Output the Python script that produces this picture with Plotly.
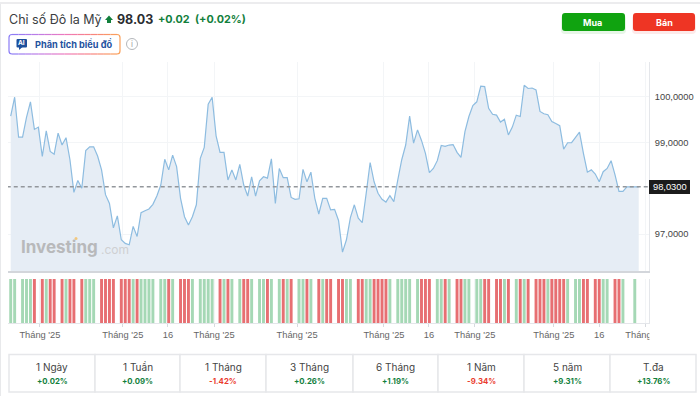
import plotly.graph_objects as go

title = "Chỉ số Đô la Mỹ"
last_price = 98.03
price_text = "98.03"
change_text = "+0.02"
change_pct_text = "(+0.02%)"
price_tag = "98,0300"

closes = [
    99.57, 99.98, 99.11, 99.11, 99.54, 99.88, 99.28, 99.33, 98.69, 99.25,
    98.80, 98.74, 99.20, 98.94, 99.10, 98.62, 97.91, 98.17, 98.00, 98.82,
    98.90, 98.90, 98.70, 98.40, 97.86, 97.67, 97.14, 97.40, 96.88, 96.80,
    96.77, 97.17, 96.95, 97.47, 97.51, 97.55, 97.65, 97.83, 98.07, 98.63,
    98.40, 98.72, 98.47, 97.78, 97.38, 97.20, 97.38, 97.64, 98.65, 98.89,
    99.83, 99.98, 99.14, 98.78, 98.78, 98.18, 98.40, 98.18, 98.52, 98.07,
    97.83, 98.25, 97.83, 98.16, 98.25, 98.22, 98.64, 97.67, 98.43, 98.23,
    98.23, 97.80, 97.76, 97.77, 98.41, 98.14, 98.35, 97.78, 97.44, 97.78,
    97.78, 97.53, 97.54, 97.30, 96.61, 96.88, 97.36, 97.64, 97.35, 97.25,
    97.89, 98.56, 98.14, 97.89, 97.76, 97.70, 97.84, 97.71, 98.18, 98.62,
    98.94, 99.57, 98.98, 99.27, 99.04, 98.76, 98.34, 98.43, 98.60, 98.93,
    98.91, 98.94, 98.95, 98.78, 98.67, 99.23, 99.56, 99.80, 99.88, 100.22,
    100.21, 99.74, 99.61, 99.59, 99.44, 99.50, 99.16, 99.33, 99.59, 99.56,
    100.24, 100.17, 100.18, 100.14, 99.67, 99.62, 99.60, 99.45, 99.41, 99.36,
    98.85, 98.99, 98.99, 99.11, 99.22, 98.76, 98.35, 98.40, 98.31, 98.14,
    98.36, 98.43, 98.60, 98.29, 97.93, 97.93, 98.03, 98.03, 98.03, 98.03,
]
days = list(range(len(closes)))

# direction per session: g = up, r = down, n = no bar
directions = (
    "ggngg" "grnrg" "rrnrg" "rrnrg" "ggnrr" "rrnrr" "rgrgg" "ggngg"
    "rgnrr" "rgngg" "ggnrg" "rgngr" "rgngg" "rgngr" "grngg" "rgnrg"
    "rrnrr" "ggnrr" "ggrrr" "rgngg" "ggngr" "rrngg" "rgnrr" "ggngg"
    "rrnrr" "grngr" "grnrr" "rgrrr" "rgngg" "rrnrr" "ggnrr" "gnngn"
)
up_days = [d for d, c in zip(days, directions) if c == "g"]
down_days = [d for d, c in zip(days, directions) if c == "r"]

y_tick_vals = [100, 99, 97]
y_tick_text = ["100,0000", "99,0000", "97,0000"]
x_tick_vals = [7.4, 28.4, 39.8, 51.5, 72.5, 94.5, 105.9, 117.5, 137.5, 149.0, 160.8]
x_tick_text = ["Tháng '25", "Tháng '25", "16", "Tháng '25", "Tháng '25", "Tháng '25",
               "16", "Tháng '25", "Tháng '25", "16", "Tháng '25"]

periods = ["1 Ngày", "1 Tuần", "1 Tháng", "3 Tháng", "6 Tháng", "1 Năm", "5 năm", "T.đa"]
period_changes = ["+0.02%", "+0.09%", "-1.42%", "+0.26%", "+1.19%", "-9.34%", "+9.31%", "+13.76%"]

W, H = 700, 396
FONT = "Inter"
AXIS_FONT = "Liberation Sans"
GREEN = "#12803c"
RED = "#ea3b2e"


def px(x):
    return x / W


def py(y):
    return 1 - y / H


def rrect(x0, y0, x1, y1, r):
    return (
        f"M{px(x0 + r)},{py(y0)} L{px(x1 - r)},{py(y0)} Q{px(x1)},{py(y0)} {px(x1)},{py(y0 + r)} "
        f"L{px(x1)},{py(y1 - r)} Q{px(x1)},{py(y1)} {px(x1 - r)},{py(y1)} "
        f"L{px(x0 + r)},{py(y1)} Q{px(x0)},{py(y1)} {px(x0)},{py(y1 - r)} "
        f"L{px(x0)},{py(y0 + r)} Q{px(x0)},{py(y0)} {px(x0 + r)},{py(y0)} Z"
    )


shapes = []
annotations = []


def rect(x0, y0, x1, y1, fill, line=None, width=0, layer="above"):
    shapes.append(dict(type="rect", xref="paper", yref="paper", x0=px(x0), x1=px(x1),
                       y0=py(y0), y1=py(y1), fillcolor=fill, layer=layer,
                       line=dict(color=line or fill, width=width)))


def path(d, fill=None, line=None, width=0):
    shapes.append(dict(type="path", xref="paper", yref="paper", path=d, layer="above",
                       fillcolor=fill or "rgba(0,0,0,0)",
                       line=dict(color=line or "rgba(0,0,0,0)", width=width)))


def text(x, y, s, size, color, anchor="left", bold=False, bg=None, family=FONT):
    annotations.append(dict(xref="paper", yref="paper", x=px(x), y=py(y), text=f"<b>{s}</b>" if bold else s,
                            showarrow=False, xanchor=anchor, yanchor="middle", borderpad=0, borderwidth=0,
                            font=dict(family=family, size=size, color=color), bgcolor=bg))


fig = go.Figure()
fig.add_trace(go.Scatter(x=days, y=closes, mode="lines", fill="tozeroy", fillcolor="#e6edf5",
                         line=dict(color="#8dbce0", width=1.2), hoverinfo="skip", xaxis="x", yaxis="y"))
fig.add_trace(go.Scatter(x=[-1, 163], y=[last_price, last_price], mode="lines", hoverinfo="skip",
                         line=dict(color="#93979c", width=1.5, dash="4px,3px"), xaxis="x", yaxis="y"))
fig.add_trace(go.Bar(x=up_days, y=[1] * len(up_days), width=0.74, marker=dict(color="#a5d8b5", line_width=0),
                     hoverinfo="skip", xaxis="x2", yaxis="y2"))
fig.add_trace(go.Bar(x=down_days, y=[1] * len(down_days), width=0.74, marker=dict(color="#e76f72", line_width=0),
                     hoverinfo="skip", xaxis="x2", yaxis="y2"))

x_range = [-0.684, 161.6]
dom_x = [px(8), px(649)]
grid = "#f3f5f7"
axis_line = "#d7dadf"
fig.update_layout(
    width=W, height=H, autosize=False, margin=dict(l=0, r=0, t=0, b=0),
    paper_bgcolor="white", plot_bgcolor="white", showlegend=False, barmode="overlay",
    font=dict(family=FONT, color="#555"),
    xaxis=dict(domain=dom_x, range=x_range, anchor="y", tickvals=x_tick_vals, ticktext=[""] * len(x_tick_vals),
               showgrid=True, gridcolor=grid, gridwidth=1, zeroline=False, ticks="", automargin=False,
               showline=True, linecolor="#d3d6db", linewidth=1.5),
    yaxis=dict(domain=[py(271), py(62)], range=[96.2, 100.746], side="right", anchor="x", automargin=False,
               tickvals=y_tick_vals, ticktext=y_tick_text, ticks="", showgrid=True, gridcolor=grid,
               zeroline=False, showline=True, linecolor="#e4e6ea", linewidth=1,
               tickfont=dict(family=AXIS_FONT, size=9.3, color="#444"), ticklabelstandoff=3),
    xaxis2=dict(domain=dom_x, range=x_range, anchor="y2", tickvals=x_tick_vals, ticktext=x_tick_text,
                showgrid=True, gridcolor=grid, zeroline=False, ticks="outside", ticklen=3, tickcolor=axis_line,
                showline=True, linecolor="#e4e6ea", linewidth=1, automargin=False,
                tickfont=dict(family=AXIS_FONT, size=9.3, color="#666"), tickangle=0, ticklabelstandoff=0),
    yaxis2=dict(domain=[py(323), py(279)], range=[0, 1], side="right", anchor="x2", showticklabels=False,
                ticks="", showgrid=False, zeroline=False, showline=True, linecolor="#e4e6ea", linewidth=1,
                automargin=False),
)

# page frame
rect(0, 2, 700, 4, "#ececee")
rect(0, 4, 1, 396, "#e8e9eb")
# clip the last date label at the chart edge
rect(649.5, 326, 700, 345, "white")

# header
text(9, 19.5, title, 12.5, "#3a3d42")
path(f"M{px(109)},{py(15.5)} L{px(113)},{py(20)} L{px(111)},{py(20)} L{px(111)},{py(23)} "
     f"L{px(107)},{py(23)} L{px(107)},{py(20)} L{px(105)},{py(20)} Z", fill="#12803c")
text(116.5, 19.5, price_text, 12.5, "#2b2d31", bold=True)
text(158, 19.5, change_text, 10.8, GREEN, bold=True)
text(195, 19.5, change_pct_text, 10.8, GREEN, bold=True)

# AI badge: gradient outline assembled from short pieces
stops = [(139, 124, 246), (190, 125, 230), (238, 120, 190), (248, 130, 130), (250, 160, 90)]


def grad(t):
    p = t * (len(stops) - 1)
    k = min(int(p), len(stops) - 2)
    f = p - k
    c = [round(stops[k][j] + (stops[k + 1][j] - stops[k][j]) * f) for j in range(3)]
    return f"rgb({c[0]},{c[1]},{c[2]})"


bx0, by0, bx1, by1, br = 9, 34.5, 120, 54, 3
n = 16
for i in range(n):
    xa = bx0 + br + (bx1 - bx0 - 2 * br) * i / n
    xb = bx0 + br + (bx1 - bx0 - 2 * br) * (i + 1) / n
    col = grad((i + 0.5) / n)
    for yy in (by0, by1):
        path(f"M{px(xa)},{py(yy)} L{px(xb)},{py(yy)}", line=col, width=1.2)
path(f"M{px(bx0 + br)},{py(by0)} Q{px(bx0)},{py(by0)} {px(bx0)},{py(by0 + br)} L{px(bx0)},{py(by1 - br)} "
     f"Q{px(bx0)},{py(by1)} {px(bx0 + br)},{py(by1)}", line=grad(0), width=1.2)
path(f"M{px(bx1 - br)},{py(by0)} Q{px(bx1)},{py(by0)} {px(bx1)},{py(by0 + br)} L{px(bx1)},{py(by1 - br)} "
     f"Q{px(bx1)},{py(by1)} {px(bx1 - br)},{py(by1)}", line=grad(1), width=1.2)
path(rrect(16.5, 39, 27, 47.5, 1), fill="#1c4f9c")
path(f"M{px(19)},{py(47)} L{px(19)},{py(50)} L{px(22.5)},{py(47)} Z", fill="#1c4f9c")
text(21.8, 43.2, "AI", 6.5, "white", anchor="center", bold=True)
text(34.5, 44.3, "Phân tích biểu đồ", 9.2, "#1f52a0", bold=True)
shapes.append(dict(type="circle", xref="paper", yref="paper", x0=px(126.5), x1=px(137.5), y0=py(38.5), y1=py(49.5),
                   line=dict(color="#b4b7bb", width=1), fillcolor="white", layer="above"))
text(132, 44.2, "i", 8, "#9a9da1", anchor="center")

# buttons
path(rrect(561, 15, 626, 34, 4), fill="rgba(18,163,18,0.10)")
path(rrect(632, 15, 696, 34, 4), fill="rgba(238,53,36,0.10)")
path(rrect(562, 13, 625, 31, 3), fill="#10a310")
path(rrect(633, 13, 695, 31, 3), fill="#ee3524")
text(592.5, 22, "Mua", 9, "white", anchor="center", bold=True)
text(664, 22, "Bán", 9, "white", anchor="center", bold=True)

# watermark
text(20.5, 247, "Investing", 17, "#b8b9bb", bold=True)
text(100.5, 250, ".com", 12, "#cfd0d2")
shapes.append(dict(type="circle", xref="paper", yref="paper", x0=px(74.5), x1=px(77.5), y0=py(237), y1=py(240),
                   line=dict(width=0), fillcolor="#f2c77e", layer="above"))

# last-price tag
rect(649, 180, 690, 194, "#1c1c1c")
text(669.5, 187.3, price_tag, 9.3, "white", anchor="center", family=AXIS_FONT)

# period table
cell_edges = [9, 95, 180, 266, 353, 438, 524, 610, 696]
for a, b in zip(cell_edges[:-1], cell_edges[1:]):
    rect(a, 354.5, b, 392, "white", line="#e6e7ea", width=1.5)
for k, (lab, chg) in enumerate(zip(periods, period_changes)):
    cx = (cell_edges[k] + cell_edges[k + 1]) / 2
    text(cx, 367.3, lab, 10, "#444", anchor="center")
    text(cx, 381, chg, 7.8, RED if chg.startswith("-") else GREEN, anchor="center", bold=True)

fig.update_layout(shapes=shapes, annotations=annotations)
fig.write_html("out.html", config=dict(displayModeBar=False),
               post_script="document.body.style.margin='0';document.body.style.overflow='hidden';")
